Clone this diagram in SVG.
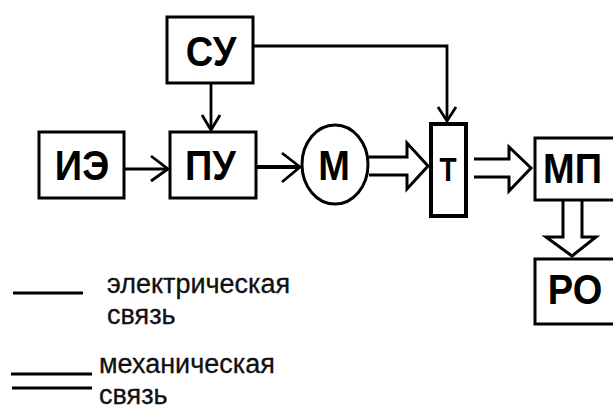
<svg xmlns="http://www.w3.org/2000/svg" width="613" height="412" viewBox="0 0 613 412">
<style>
.box{fill:#fff;stroke:#000;stroke-width:3}
.lbl{font-family:"Liberation Sans",Arial,sans-serif;font-weight:bold;font-size:38px;text-anchor:middle;fill:#000}
.wire{fill:none;stroke:#000;stroke-width:2.8}
.mech{fill:#fff;stroke:#000;stroke-width:3;stroke-linejoin:miter}
.leg{font-family:"Liberation Sans",Arial,sans-serif;font-size:27px;fill:#111;stroke:#111;stroke-width:0.3}
</style>
<rect width="613" height="412" fill="#fff"/>
<g id="connectors">
  <path class="wire" d="M254,46 H447 V121"/>
  <path class="wire" d="M438,107 L447,121 L456,107"/>
  <path class="wire" d="M211,84 V130"/>
  <path class="wire" d="M202,115 L211,130 L220,115"/>
  <path class="wire" d="M125,169 H168"/>
  <path class="wire" d="M151,156 L168,169 L151,181"/>
  <path class="wire" style="stroke-width:4" d="M257,167 H300"/>
  <path class="wire" d="M282,153 L300,167 L282,182"/>
  <path class="mech" d="M369,157 H407 V143 L428,166 L407,189 V175 H369"/>
  <path class="mech" d="M474,159 H509 V147 L531,168 L509,191 V177 H474"/>
  <path class="mech" d="M563,200 V237 H546 L572,256 L596,237 H582 V200"/>
</g>
<g id="SU"><rect class="box" x="167" y="17" width="86" height="66"/><text class="lbl" transform="translate(211,66) scale(1,1.13)">СУ</text></g>
<g id="IE"><rect class="box" x="39" y="132" width="85" height="66"/><text class="lbl" transform="translate(82,180) scale(1,1.13)">ИЭ</text></g>
<g id="PU"><rect class="box" x="170" y="132" width="86" height="66"/><text class="lbl" transform="translate(210.5,180) scale(1,1.13)">ПУ</text></g>
<g id="M"><ellipse class="box" cx="335" cy="164.5" rx="33" ry="39.5"/><text class="lbl" transform="translate(334,180) scale(1,1.13)">М</text></g>
<g id="T"><rect class="box" style="stroke-width:4" x="431" y="124" width="35" height="92"/><text class="lbl" style="font-size:28px" transform="translate(448,181) scale(1,1.2)">Т</text></g>
<g id="MP"><rect class="box" x="535" y="138" width="85" height="62"/><text class="lbl" transform="translate(572.5,183) scale(1,1.13)">МП</text></g>
<g id="RO"><rect class="box" x="535" y="259" width="85" height="65"/><text class="lbl" transform="translate(575,304) scale(1,1.13)">РО</text></g>
<g id="legend">
  <line x1="13" y1="293" x2="83" y2="293" stroke="#000" stroke-width="3"/>
  <text class="leg" x="107" y="293">электрическая</text>
  <text class="leg" x="107" y="324">связь</text>
  <line x1="11" y1="374" x2="92" y2="374" stroke="#000" stroke-width="3"/>
  <line x1="12" y1="388" x2="92" y2="388" stroke="#000" stroke-width="3"/>
  <text class="leg" x="99" y="373">механическая</text>
  <text class="leg" x="99" y="404">связь</text>
</g>
</svg>
